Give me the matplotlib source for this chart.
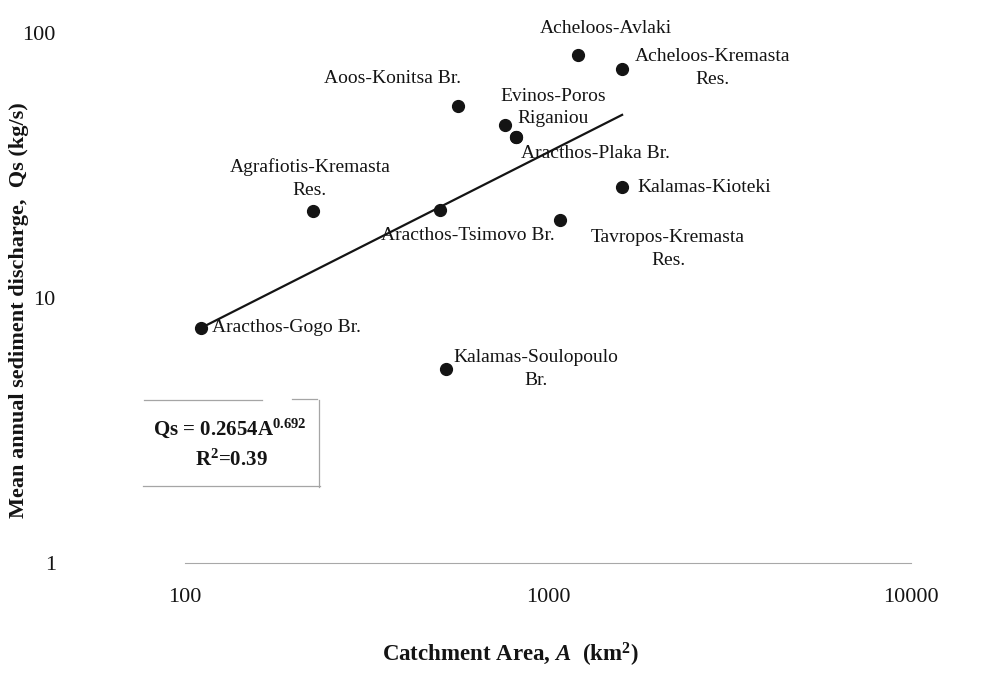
import matplotlib
matplotlib.use("Agg")
import matplotlib.pyplot as plt
from matplotlib.ticker import FixedLocator, FixedFormatter, NullLocator
from matplotlib.lines import Line2D

plt.rcParams["mathtext.fontset"] = "custom"
plt.rcParams["mathtext.rm"] = "Liberation Serif"
plt.rcParams["mathtext.it"] = "Liberation Serif:italic"
plt.rcParams["mathtext.bf"] = "Liberation Serif:bold"
plt.rcParams["mathtext.bfit"] = "Liberation Serif:bold:italic"

# ---- data ----
stations = ["Acheloos-Avlaki", "Acheloos-Kremasta\nRes.", "Aoos-Konitsa Br.", "Evinos-Poros",
            "Riganiou", "Aracthos-Plaka Br.", "Kalamas-Kioteki", "Agrafiotis-Kremasta\nRes.",
            "Aracthos-Tsimovo Br.", "Tavropos-Kremasta\nRes.", "Aracthos-Gogo Br.",
            "Kalamas-Soulopoulo\nBr."]
area_km2 = [1211, 1600, 565, 762, 817, 817, 1600, 225, 504, 1079, 110.7, 524]
qs_kgs = [82.6, 73.1, 53.0, 45.0, 40.5, 40.5, 26.2, 21.3, 21.5, 19.7, 7.71, 5.40]

# power trend line (Qs = 0.2654 A^0.692) as drawn: end points
trend_area = [110.7, 1600]
trend_qs = [7.71, 49.1]
equation_text = r"Qs = 0.2654A$^{\mathbf{0.692}}$"
r2_text = r"R$^{\mathbf{2}}$=0.39"

x_ticks = [100, 1000, 10000]
x_tick_labels = ["100", "1000", "10000"]
y_ticks = [1, 10, 100]
y_tick_labels = ["1", "10", "100"]

# label placement (offset in pixels from the point, alignment)
label_style = [
    ((28, 27), "center"), ((90, 1), "center"), ((-65, 28), "center"), ((48, 28), "center"),
    ((1, 19), "left"), ((79, -16), "center"), ((15, 0), "left"), ((-3, 32), "center"),
    ((28, -26), "center"), ((108, -29), "center"), ((11, 0), "left"), ((90, 0), "center"),
]

W, H = 991, 690
DPI = 100
fig = plt.figure(figsize=(W / DPI, H / DPI), dpi=DPI)
fig.patch.set_facecolor("white")

x0, x1 = 185, 911
y_top, y_bot = 33, 563
ax = fig.add_axes([x0 / W, 1 - y_bot / H, (x1 - x0) / W, (y_bot - y_top) / H])
ax.set_xscale("log")
ax.set_yscale("log")
ax.set_xlim(100, 10000)
ax.set_ylim(1, 100)

serif = ["Liberation Serif", "DejaVu Serif"]
ink = "#141414"

ax.plot(trend_area, trend_qs, color=ink, lw=1.6, zorder=2)
ax.plot(area_km2, qs_kgs, "o", color=ink, ms=8.5, zorder=3)

px2pt = 72.0 / DPI
for name, x, y, ((dx, dy), ha) in zip(stations, area_km2, qs_kgs, label_style):
    ax.annotate(name, (x, y), xytext=(dx * px2pt, dy * px2pt), textcoords="offset points",
                ha=ha, va="center", multialignment="center", fontsize=14,
                family=serif, color=ink, linespacing=1.45, zorder=1,
                annotation_clip=False)

# axes styling
for s in ["top", "right", "left"]:
    ax.spines[s].set_visible(False)
ax.spines["bottom"].set_color("#a8a8a8")
ax.spines["bottom"].set_linewidth(0.8)

ax.xaxis.set_major_locator(FixedLocator(x_ticks))
ax.xaxis.set_major_formatter(FixedFormatter(x_tick_labels))
ax.yaxis.set_major_locator(FixedLocator(y_ticks))
ax.yaxis.set_major_formatter(FixedFormatter(y_tick_labels))
ax.xaxis.set_minor_locator(NullLocator())
ax.yaxis.set_minor_locator(NullLocator())
ax.tick_params(axis="x", length=0, pad=18, labelsize=16, labelcolor=ink)
ax.tick_params(axis="y", length=0, pad=93, labelsize=16, labelcolor=ink)
for lab in ax.get_xticklabels() + ax.get_yticklabels():
    lab.set_family(serif)

ax.set_xlabel(r"Catchment Area, $\mathbfit{A}$  (km$^{\mathbf{2}}$)", fontsize=16.5,
              fontweight="bold", family=serif, color=ink)
ax.xaxis.label.set_va("center")
ax.xaxis.set_label_coords((510 - x0) / (x1 - x0), -(655 - y_bot) / (y_bot - y_top))
ax.set_ylabel("Mean annual sediment discharge,  Qs (kg/s)", fontsize=16, fontweight="bold",
              family=serif, color=ink)
ax.yaxis.label.set_va("center")
ax.yaxis.set_label_coords((19 - x0) / (x1 - x0), (y_bot - 310) / (y_bot - y_top))

# equation box (faint scanned outline: top, right and bottom edges)
def fx(px):
    return px / W


def fy(py):
    return 1 - py / H


box_col = "#a5a5a5"
for xs, ys in [((144, 262), (400, 400)), ((292, 317), (399, 399)),
               ((319, 319), (400, 487)), ((143, 320), (486, 486))]:
    fig.add_artist(Line2D([fx(xs[0]), fx(xs[1])], [fy(ys[0]), fy(ys[1])],
                          transform=fig.transFigure, color=box_col, lw=0.9))
fig.text(fx(230), fy(428), equation_text, ha="center", va="center",
         fontsize=15, fontweight="bold", family=serif, color=ink)
fig.text(fx(231), fy(460), r2_text, ha="center", va="center",
         fontsize=15, fontweight="bold", family=serif, color=ink)

fig.savefig("out.png", dpi=DPI)
